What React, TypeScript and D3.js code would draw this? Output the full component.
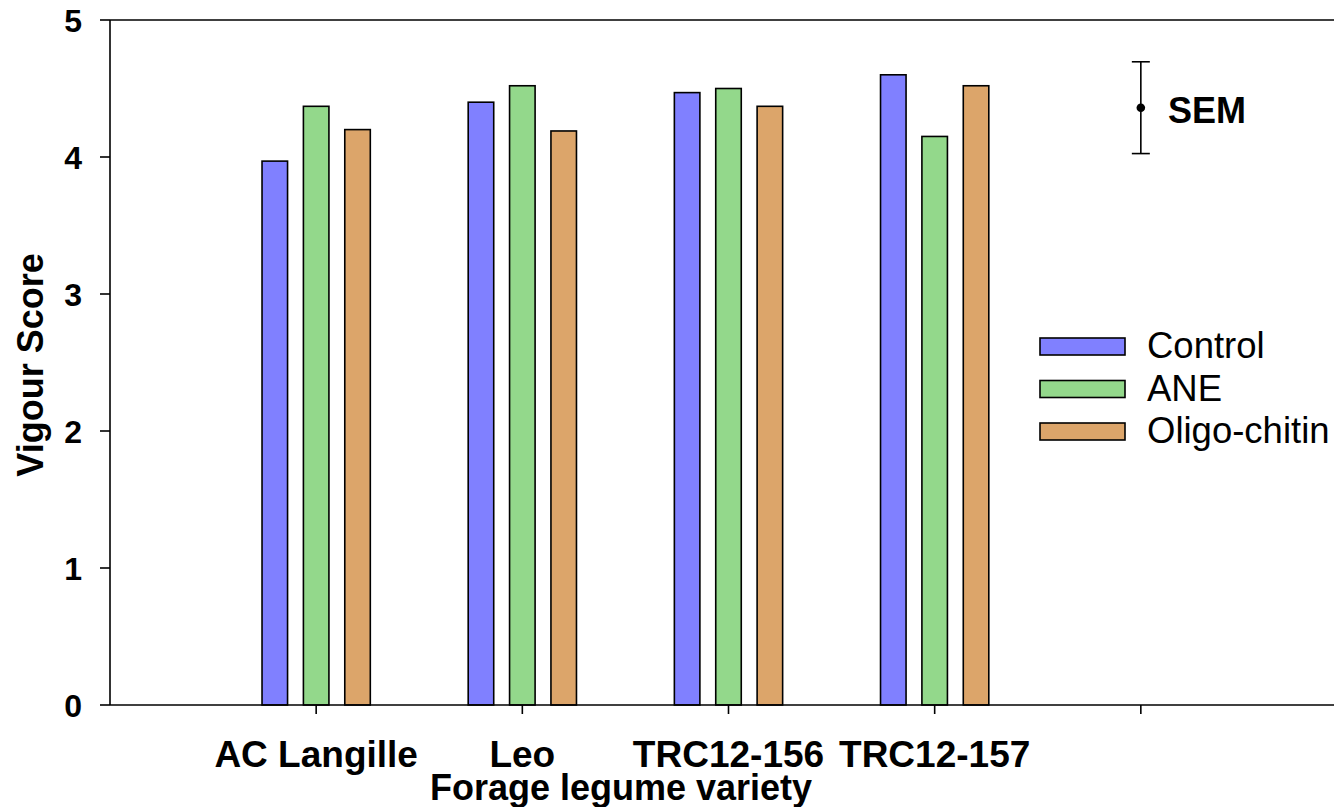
import React from "react";
import * as d3 from "d3";

const categories = ["AC Langille", "Leo", "TRC12-156", "TRC12-157"];
const seriesNames = ["Control", "ANE", "Oligo-chitin"];
const controlValues = [3.97, 4.40, 4.47, 4.60];
const aneValues = [4.37, 4.52, 4.50, 4.15];
const oligoValues = [4.20, 4.19, 4.37, 4.52];
const yTicks = [0, 1, 2, 3, 4, 5];
const xTickPositions = [1, 2, 3, 4, 5];
const semPoint = { x: 5, y: 4.36, err: 0.335 };
const colors = ["#8080FF", "#93D88B", "#DCA56A"];

const W = 1334;
const H = 807;
const FONT = "'Liberation Sans', Arial, sans-serif";

export default function App() {
  const series = [controlValues, aneValues, oligoValues];
  const x = d3.scaleLinear().domain([0, 6]).range([110, 1347]);
  const y = d3.scaleLinear().domain([0, 5]).range([705, 20]);
  const sub = d3
    .scaleBand<string>()
    .domain(seriesNames)
    .range([-62, 62])
    .paddingInner(0.383)
    .paddingOuter(0.19);

  return (
    <svg
      width={W}
      height={H}
      style={{ position: "absolute", left: 0, top: 0, background: "#fff" }}
      fontFamily={FONT}
    >
      {/* bars */}
      {categories.map((c, ci) =>
        seriesNames.map((s, si) => {
          const v = series[si][ci];
          return (
            <rect
              key={c + s}
              x={x(ci + 1) + (sub(s) as number)}
              y={y(v)}
              width={sub.bandwidth()}
              height={y(0) - y(v)}
              fill={colors[si]}
              stroke="#000"
              strokeWidth={1.6}
            />
          );
        })
      )}

      {/* frame / axes */}
      <line x1={x(0)} x2={W} y1={y(5)} y2={y(5)} stroke="#000" strokeWidth={1.6} />
      <line x1={x(0)} x2={W} y1={y(0)} y2={y(0)} stroke="#000" strokeWidth={1.6} />
      <line x1={x(0)} x2={x(0)} y1={y(0)} y2={y(5)} stroke="#000" strokeWidth={1.6} />

      {yTicks.map((t) => (
        <g key={t}>
          <line x1={x(0) - 10} x2={x(0)} y1={y(t)} y2={y(t)} stroke="#000" strokeWidth={1.6} />
          <text
            x={82}
            y={y(t)}
            dy="0.36em"
            textAnchor="end"
            fontSize={32}
            fontWeight="bold"
          >
            {t}
          </text>
        </g>
      ))}

      {xTickPositions.map((p) => (
        <line key={p} x1={x(p)} x2={x(p)} y1={y(0)} y2={y(0) + 9} stroke="#000" strokeWidth={1.6} />
      ))}
      {categories.map((c, ci) => (
        <text
          key={c}
          x={x(ci + 1)}
          y={767}
          textAnchor="middle"
          fontSize={37}
          fontWeight="bold"
        >
          {c}
        </text>
      ))}

      <text x={621} y={800} textAnchor="middle" fontSize={36} fontWeight="bold">
        Forage legume variety
      </text>
      <text
        transform={`translate(43,365) rotate(-90)`}
        textAnchor="middle"
        fontSize={36}
        fontWeight="bold"
      >
        Vigour Score
      </text>

      {/* SEM indicator */}
      <g stroke="#000" strokeWidth={1.6}>
        <line x1={x(semPoint.x)} x2={x(semPoint.x)} y1={y(semPoint.y + semPoint.err)} y2={y(semPoint.y - semPoint.err)} />
        <line x1={x(semPoint.x) - 9} x2={x(semPoint.x) + 9} y1={y(semPoint.y + semPoint.err)} y2={y(semPoint.y + semPoint.err)} />
        <line x1={x(semPoint.x) - 9} x2={x(semPoint.x) + 9} y1={y(semPoint.y - semPoint.err)} y2={y(semPoint.y - semPoint.err)} />
      </g>
      <circle cx={x(semPoint.x)} cy={y(semPoint.y)} r={4.3} fill="#000" />
      <text x={1168} y={123} fontSize={36} fontWeight="bold">
        SEM
      </text>

      {/* legend */}
      {seriesNames.map((s, si) => (
        <g key={s} transform={`translate(0, ${338 + si * 42.5})`}>
          <rect x={1040} y={0} width={85} height={17} fill={colors[si]} stroke="#000" strokeWidth={1.6} />
          <text x={1147} y={20} fontSize={36.5}>
            {s}
          </text>
        </g>
      ))}
    </svg>
  );
}
